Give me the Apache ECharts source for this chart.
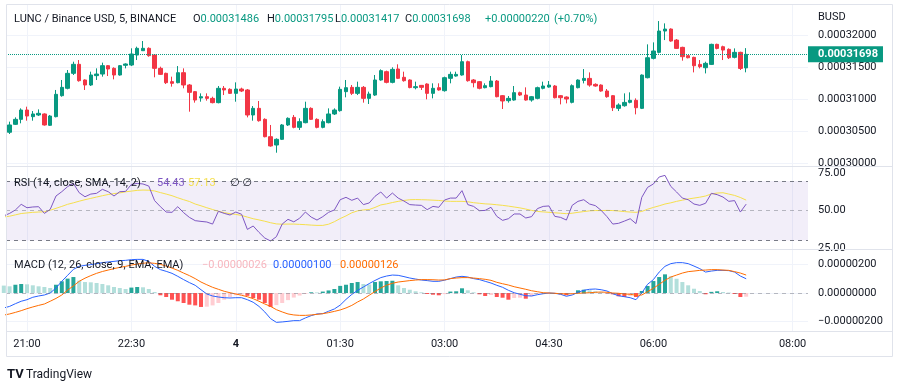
<!DOCTYPE html>
<html><head><meta charset="utf-8">
<script src="https://cdn.jsdelivr.net/npm/echarts@6/dist/echarts.min.js"></script>
<style>html,body{margin:0;padding:0;background:#fff}#c{width:900px;height:386px}</style>
</head><body><div id="c"></div><script>
// 5-minute bars; bar index 0 = 21:00. Prices / MACD in units of 1e-8.
const firstIndex = -4;
const opens = [30698,30480,30604,30682,
30828,30724,30750,30766,30589,30724,31052,31167,31401,31542,
31297,31219,31365,31390,31521,31479,31375,31526,31531,31687,
31755,31792,31687,31479,31401,31271,31255,31411,31219,31115,
31016,31036,31010,30943,31167,31151,31088,31156,31141,30750,
30854,30682,30411,30281,30370,30594,30713,30557,30630,30854,
30682,30557,30630,30766,30818,31115,31182,31088,31182,31010,
31062,31297,31427,31260,31469,31339,31297,31177,31213,31234,
31088,31177,31130,31323,31359,31375,31583,31297,31271,31177,
31193,31281,31052,30974,30984,31099,31062,30984,31010,31167,
31187,31203,31052,31031,30948,31177,31291,31322,31229,31218,
31125,31052,30854,30895,30948,30979,30854,31333,31635,31729,
32062,32093,31921,31807,31677,31651,31541,31489,31541,31854,
31817,31776,31651,31729,31486];
const closes = [30490,30594,30682,30828,
30734,30766,30776,30594,30734,31073,31182,31401,31542,31286,
31219,31375,31390,31521,31469,31375,31521,31547,31703,31792,
31792,31677,31479,31385,31255,31245,31411,31219,31104,30984,
31036,31010,30943,31167,31141,31088,31156,31125,30750,30854,
30661,30411,30266,30370,30594,30698,30557,30646,30854,30682,
30557,30646,30766,30828,31151,31177,31088,31182,31010,31078,
31297,31443,31260,31463,31323,31286,31179,31193,31182,31088,
31167,31141,31333,31385,31385,31583,31286,31255,31167,31208,
31281,31036,30969,31010,31099,31062,30984,31036,31177,31203,
31218,31020,31020,31000,31208,31296,31322,31218,31203,31125,
31036,30864,30906,30947,30979,30864,31374,31645,31750,32062,
32093,31906,31791,31661,31645,31520,31505,31557,31854,31791,
31765,31645,31729,31478,31698];
const lows = [30470,30453,30594,30620,
30661,30661,30734,30584,30578,30713,31036,31151,31375,31271,
31141,31203,31297,31349,31359,31307,31365,31479,31515,31609,
31750,31661,31339,31375,31234,31193,31245,31167,30802,30943,
30958,30974,30932,30932,31062,31078,30958,31109,30713,30661,
30646,30401,30255,30161,30359,30578,30542,30516,30620,30672,
30542,30542,30620,30750,30802,31026,31062,31062,30943,30922,
31047,31286,31245,31245,31312,31271,31167,31151,31141,30995,
31010,31130,31115,31245,31349,31365,31271,31182,31151,31167,
31182,31026,30844,30943,30974,31047,30974,30958,30995,31151,
31177,31010,30916,30932,30932,31166,31244,31192,31192,31114,
31020,30812,30812,30880,30932,30760,30843,31322,31619,31713,
31921,31895,31781,31599,31635,31416,31479,31400,31531,31776,
31609,31625,31635,31453,31417];
const highs = [30713,30646,30713,30854,
30880,30812,30838,30776,30750,31141,31297,31453,31583,31609,
31307,31427,31479,31568,31531,31495,31531,31557,31792,31818,
31906,31807,31698,31505,31411,31349,31515,31479,31234,31125,
31088,31088,31036,31203,31203,31167,31260,31177,31156,30890,
30969,30698,30594,30385,30609,30713,30750,30698,30958,30870,
30698,30682,30854,30854,31193,31297,31219,31271,31203,31115,
31375,31463,31443,31495,31542,31427,31307,31271,31219,31245,
31245,31245,31349,31427,31427,31687,31599,31312,31281,31245,
31359,31297,31062,31047,31203,31115,31182,31047,31193,31271,
31281,31218,31062,31041,31229,31307,31468,31416,31244,31229,
31156,31062,30932,31088,31104,31010,31385,31854,31885,32218,
32182,32104,31937,31817,31687,31661,31609,31583,31864,31864,
31833,31791,31791,31739,31795];
const rsi = [46.5,48.2,50.5,54.3,
52.0,52.5,52.7,48.2,50.9,59.9,62.8,66.2,68.4,62.1,
59.4,61.2,61.7,64.4,62.8,59.9,62.8,63.0,67.7,68.4,
68.0,66.6,56.8,52.7,49.1,48.9,52.7,48.7,45.5,43.3,
42.8,42.4,41.0,49.6,48.2,47.1,49.1,47.6,37.4,39.7,
35.4,31.6,29.6,32.5,41.0,44.2,42.5,44.9,49.1,45.7,
43.7,46.0,48.9,50.5,57.4,59.0,57.0,58.5,54.1,55.2,
59.7,62.6,58.5,61.9,58.5,56.5,54.1,53.8,53.6,50.7,
52.9,52.3,57.2,58.5,58.5,63.5,54.1,52.9,50.0,50.2,
52.3,46.2,43.5,44.6,47.8,47.8,45.1,46.0,51.4,52.9,
53.2,46.2,45.5,43.7,53.6,56.3,57.4,54.5,53.4,50.2,
46.0,41.0,41.5,43.0,44.6,41.3,59.0,65.7,68.0,72.7,
73.8,66.4,62.6,58.5,57.4,54.5,53.6,55.0,61.7,60.8,
59.2,56.3,56.8,49.1,54.43];
const rsiMa = [45.8,46.3,47.2,48.1,
48.5,48.9,49.1,49.3,50.3,51.6,52.9,54.3,55.3,56.4,
57.4,58.3,59.2,60.1,60.9,61.5,62.0,62.7,63.2,63.7,
63.9,63.8,63.3,62.2,61.2,60.1,58.7,57.4,56.2,54.5,
53.3,52.0,50.8,49.6,48.7,48.0,47.5,46.8,45.7,44.6,
43.8,42.9,41.9,41.1,40.9,41.0,41.0,40.8,40.6,40.3,
40.1,40.1,40.9,42.6,44.7,46.5,48.6,49.9,50.5,50.8,
52.2,53.9,54.6,55.5,56.3,56.9,57.4,57.5,57.4,57.3,
57.1,56.9,56.5,56.3,56.3,56.3,56.0,55.4,55.0,54.6,
54.4,54.0,53.6,53.1,52.5,51.9,51.1,50.2,49.5,49.2,
48.9,48.6,48.3,48.0,48.3,48.9,49.4,49.9,50.1,50.1,
50.2,50.1,49.8,49.4,49.1,48.9,49.5,51.0,52.2,53.3,
54.5,55.3,56.3,57.1,57.9,58.5,59.1,59.9,61.3,61.9,
62.1,61.2,60.3,58.9,57.13];
const macd = [-105,-94,-75,-58,
-47,-30,-21,-14,0,35,82,124,166,187,
194,199,206,213,218,222,227,229,234,236,
236,222,187,164,152,138,117,94,73,54,
23,-7,-21,-28,-33,-35,-33,-33,-47,-65,
-94,-133,-180,-206,-203,-199,-194,-194,-175,-159,
-147,-145,-128,-112,-85,-45,-10,18,42,66,
88,108,119,126,124,115,105,98,91,87,
82,82,90,101,112,117,112,101,94,82,
70,54,40,19,2,-9,-19,-21,-12,-5,
0,-2,-9,-23,-14,5,19,26,28,23,
14,-5,-19,-26,-33,-47,0,61,94,147,
187,206,213,213,206,189,171,147,154,159,
159,157,147,119,100];
const signal = [-155,-147,-136,-124,
-110,-98,-87,-77,-58,-38,-14,20,50,82,
104,122,138,151,161,171,180,187,196,203,
209,212,208,201,189,175,159,140,122,101,
77,58,40,26,12,2,-7,-16,-26,-40,
-58,-77,-94,-117,-133,-147,-154,-157,-157,-154,
-150,-145,-138,-129,-119,-105,-87,-63,-42,-16,
10,35,55,68,77,82,87,91,94,94,
93,91,92,101,105,108,108,105,101,96,
89,75,65,56,44,35,26,16,9,2,
0,-2,-5,-7,-5,-2,0,2,5,7,
5,0,-2,-7,-9,-16,-14,9,33,61,
89,112,126,140,150,154,159,161,164,164,
161,159,150,140,126];
const hist = [52,47,58,63,
61,54,47,42,35,58,82,101,112,87,
77,75,70,63,54,42,35,28,38,42,
40,28,7,-16,-28,-47,-58,-70,-82,-87,
-98,-96,-87,-70,-47,-28,-16,-12,-20,-35,
-47,-70,-98,-85,-70,-50,-32,-18,-6,5,
4,10,18,28,50,58,70,77,63,60,
77,82,84,86,54,35,23,12,5,-7,
-12,-16,-8,10,12,33,19,5,-9,-21,
-14,-28,-33,-47,-35,-33,-40,-23,-9,-8,
-6,-7,-9,-16,-7,19,23,19,12,7,
-3,-9,-23,-28,-21,-28,14,49,84,112,
131,117,100,77,54,30,14,-9,8,12,
7,3,-7,-28,-26];
const timeTicks = [0, 18, 36, 54, 72, 90, 108, 132];
const timeLabels = ['21:00', '22:30', '4', '01:30', '03:00', '04:30', '06:00', '08:00'];
const priceTicks = [30000, 30500, 31000, 31500, 32000];
const rsiTicks = [25, 50, 75];
const rsiLevels = [70, 50, 30];
const macdTicks = [-200, 0, 200];

// ---- styling / layout ----
const FONT = 'Roboto, "Noto Sans", "DejaVu Sans", sans-serif';
const TXT = '#131722';
const UP = '#089981', DOWN = '#f23645';
const GRIDC = '#f0f3fa';
const GL = 6, GR = 92;
const X_MIN = -3.62, X_MAX = 134.66;
const LEG = 11;
const fmt8 = v => (v < 0 ? '\u2212' : '') + (Math.abs(v) / 1e8).toFixed(8);

const n = opens.length;
const xs = opens.map((_, k) => firstIndex + k);
const candleData = xs.map((x, k) => [x, opens[k], closes[k], lows[k], highs[k]]);
const pair = arr => xs.map((x, k) => [x, arr[k]]);
const histData = xs.map((x, k) => {
  const v = hist[k], p = k > 0 ? hist[k - 1] : v;
  const c = v >= 0 ? (p < v ? '#26a69a' : '#b2dfdb') : (p < v ? '#ffcdd2' : '#ff5252');
  return { value: [x, v], itemStyle: { color: c } };
});
const last = n - 1;
const chg = closes[last] - closes[last - 1];
const pct = chg / closes[last - 1] * 100;

function xAx(gi, show) {
  return {
    type: 'value', gridIndex: gi, min: X_MIN, max: X_MAX,
    axisLine: { show: false },
    axisTick: { show: false, customValues: timeTicks },
    axisLabel: show ? {
      show: true, customValues: timeTicks, margin: 8, fontSize: 11, fontFamily: FONT, color: TXT,
      formatter: v => { const l = timeLabels[timeTicks.indexOf(v)]; return l === '4' ? '{b|4}' : l; },
      rich: { b: { fontWeight: 'bold', fontSize: 11, fontFamily: FONT, color: TXT } }
    } : { show: false },
    splitLine: { show: show, lineStyle: { color: GRIDC, width: 1 } }
  };
}
function yAx(gi, min, max, ticks, fmt, split) {
  return {
    type: 'value', gridIndex: gi, position: 'right', min: min, max: max,
    axisLine: { show: false },
    axisTick: { show: false, customValues: ticks },
    axisLabel: { customValues: ticks, formatter: fmt, margin: 10, fontSize: 11, fontFamily: FONT, color: TXT },
    splitLine: { show: split, lineStyle: { color: GRIDC, width: 1 } }
  };
}
function T(x, y, text, color, size, weight) {
  return { type: 'text', x: x, y: y, silent: true, z: 100,
    style: { text: text, fill: color, font: (weight || 'normal') + ' ' + (size || LEG) + 'px ' + FONT, verticalAlign: 'middle' } };
}
function KV(x, y, k, v, color) {
  const f = LEG + 'px ' + FONT;
  return { type: 'text', x: x, y: y, silent: true, z: 100,
    style: { text: '{k|' + k + '}{v|' + v + '}', verticalAlign: 'middle', font: f,
      rich: { k: { fill: TXT, font: f }, v: { fill: color, font: f } } } };
}
function HL(y) {
  return { type: 'line', silent: true, z: 90, shape: { x1: 6, y1: y, x2: 893, y2: y }, style: { stroke: '#e0e3eb', lineWidth: 1 } };
}

const option = {
  animation: false,
  backgroundColor: '#ffffff',
  grid: [
    { left: GL, right: GR, top: 5, height: 161, outerBoundsMode: 'none' },
    { left: GL, right: GR, top: 167, height: 82, outerBoundsMode: 'none' },
    { left: GL, right: GR, top: 250, height: 81, outerBoundsMode: 'none' },
    { left: GL, right: GR, top: 5, height: 326, outerBoundsMode: 'none' }
  ],
  xAxis: [xAx(0, false), xAx(1, false), xAx(2, false), xAx(3, true)],
  yAxis: [
    yAx(0, 29953, 32469, priceTicks, v => fmt8(v), true),
    yAx(1, 24.21, 79.43, rsiTicks, v => v.toFixed(2), false),
    yAx(2, -266.7, 301.8, macdTicks, v => fmt8(v), true),
    { type: 'value', gridIndex: 3, min: 0, max: 1, show: false }
  ],
  series: [
    {
      type: 'candlestick', xAxisIndex: 0, yAxisIndex: 0, data: candleData, barWidth: 4,
      itemStyle: { color: UP, color0: DOWN, borderColor: UP, borderColor0: DOWN, borderWidth: 1 },
      markLine: {
        silent: true, symbol: ['none', 'none'], animation: false,
        lineStyle: { color: UP, type: 'dotted', width: 1 },
        label: { position: 'end', distance: 0, formatter: () => fmt8(closes[last]), color: '#fff',
          backgroundColor: UP, fontSize: 11, fontWeight: 'bold', fontFamily: FONT, padding: [3, 5, 2, 10] },
        data: [{ yAxis: closes[last] }]
      }
    },
    {
      type: 'line', xAxisIndex: 1, yAxisIndex: 1, data: pair(rsi), symbol: 'none', z: 3,
      lineStyle: { color: '#7e57c2', width: 1 },
      markArea: { silent: true, itemStyle: { color: 'rgba(126,87,194,0.1)' },
        data: [[{ yAxis: rsiLevels[2] }, { yAxis: rsiLevels[0] }]] },
      markLine: { silent: true, symbol: ['none', 'none'], label: { show: false },
        lineStyle: { color: '#787b86', type: [4, 4], width: 1 },
        data: [{ yAxis: rsiLevels[0] }, { yAxis: rsiLevels[1], lineStyle: { color: 'rgba(120,123,134,0.5)', type: [4, 4] } }, { yAxis: rsiLevels[2] }] }
    },
    { type: 'line', xAxisIndex: 1, yAxisIndex: 1, data: pair(rsiMa), symbol: 'none', z: 2,
      lineStyle: { color: '#f5df4d', width: 1 } },
    {
      type: 'bar', xAxisIndex: 2, yAxisIndex: 2, data: histData, barWidth: 4, z: 1,
      markLine: { silent: true, symbol: ['none', 'none'], label: { show: false },
        lineStyle: { color: 'rgba(120,123,134,0.5)', type: [4, 4], width: 1 }, data: [{ yAxis: 0 }] }
    },
    { type: 'line', xAxisIndex: 2, yAxisIndex: 2, data: pair(macd), symbol: 'none', z: 3,
      lineStyle: { color: '#2962ff', width: 1 } },
    { type: 'line', xAxisIndex: 2, yAxisIndex: 2, data: pair(signal), symbol: 'none', z: 3,
      lineStyle: { color: '#ff6d00', width: 1 } }
  ],
  graphic: [
    { type: 'rect', silent: true, z: 90, shape: { x: 6.5, y: 4.5, width: 886, height: 352 }, style: { fill: 'none', stroke: '#e0e3eb', lineWidth: 1 } },
    HL(166.5), HL(249.5), HL(331.5),
    T(14, 19, 'LUNC / Binance USD, 5, BINANCE', TXT),
    KV(193, 19, 'O', fmt8(opens[last]), UP),
    KV(267, 19, 'H', fmt8(highs[last]), UP),
    KV(335, 19, 'L', fmt8(lows[last]), UP),
    KV(405, 19, 'C', fmt8(closes[last]), UP),
    T(485, 19, (chg >= 0 ? '+' : '\u2212') + (Math.abs(chg) / 1e8).toFixed(8), UP),
    T(554, 19, '(' + (pct >= 0 ? '+' : '\u2212') + Math.abs(pct).toFixed(2) + '%)', UP),
    T(818, 17, 'BUSD', TXT, 11),
    T(14, 183, 'RSI (14, close, SMA, 14, 2)', TXT),
    T(157, 183, rsi[last].toFixed(2), '#7e57c2'),
    T(188, 183, rsiMa[last].toFixed(2), '#f5df4d'),
    T(230, 183, '\u2205 \u2205', TXT),
    T(14, 265, 'MACD (12, 26, close, 9, EMA, EMA)', TXT),
    T(202, 265, fmt8(hist[last]), '#f7b6be'),
    T(273, 265, fmt8(macd[last]), '#2962ff'),
    T(340, 265, fmt8(signal[last]), '#ff6d00'),
    T(7, 375, 'TV', TXT, 13, 'bold'),
    T(26, 375, 'TradingView', TXT, 12)
  ]
};
const chart = echarts.init(document.getElementById('c'));
chart.setOption(option);
</script></body></html>
